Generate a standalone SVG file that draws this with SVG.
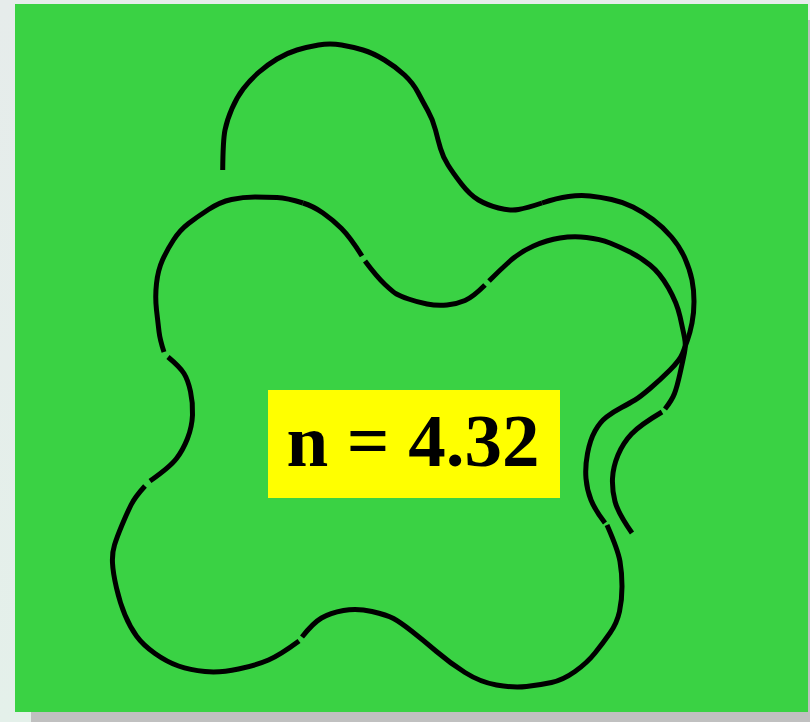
<svg xmlns="http://www.w3.org/2000/svg" width="810" height="722" viewBox="0 0 810 722">
<defs>
<linearGradient id="bg" x1="0" y1="0" x2="0" y2="1">
<stop offset="0" stop-color="#e6eceb"/>
<stop offset="1" stop-color="#e4f0ea"/>
</linearGradient>
<style>
.c{fill:none;stroke:#000;stroke-width:5;stroke-linecap:butt;stroke-linejoin:round}
.lbl{font-family:"Liberation Serif","Times New Roman",serif;font-weight:bold;font-size:75px;fill:#000}
</style>
</defs>
<rect x="0" y="0" width="810" height="722" fill="url(#bg)"/>
<rect x="31" y="20" width="779" height="702" fill="#c0c0c0"/>
<rect x="15" y="4" width="793" height="708" fill="#3ad244"/>
<g id="curve">
<path class="c" d="M222.7,170 Q223,140 225,130 Q227,120 232,108.5 Q237,97 243.5,88.5 Q250,80 258.5,72.5 Q267,65 277,59 Q287,53 297,50 Q307,47 318.5,45 Q330,43 341.5,45 Q353,47 363,50 Q373,53 384.5,60 Q396,67 404.5,75 Q413,83 418,92.5 Q423,102 428,111 Q433,120 435.5,130 Q438,140 440.5,148.5 Q443,157 448,165 Q453,173 461.5,184 Q470,195 478.5,200 Q487,205 498.5,208 Q510,211 518.5,209.5 Q527,208 542,203"/>
<path class="c" d="M542,203 Q557,198 568.5,196.5 Q580,195 590,196 Q600,197 611.5,199.5 Q623,202 633,207 Q643,212 653,219.5 Q663,227 671.5,237 Q680,247 685,258.5 Q690,270 692,280 Q694,290 694,301.5 Q694,313 692,323 Q690,333 687.5,340 Q685,347 682.5,353.5 Q680,360 670,370 Q660,380 650,388.5 Q640,397 635,400 Q630,403 621.5,407.5 Q613,412 606.5,417 Q600,422 595,431 Q590,440 587.5,453.5 Q585,467 586,478.5 Q587,490 591,500 Q595,510 605,523"/>
<path class="c" d="M607,525 Q618,550 620,561.5 Q622,573 622,586.5 Q622,600 619.5,611.5 Q617,623 610,633 Q603,643 595,653 Q587,663 575,671.5 Q563,680 551.5,682.5 Q540,685 526.5,686.5 Q513,688 496.5,685 Q480,682 465,672.5 Q450,663 436.5,651.5 Q423,640 411.5,631 Q400,622 393.5,618.5 Q387,615 372,611.5 Q357,608 343.5,610.5 Q330,613 321.5,618 Q313,623 302,637"/>
<path class="c" d="M299,641 Q280,655 268.5,660 Q257,665 238.5,669 Q220,673 205,671.5 Q190,670 178.5,666 Q167,662 155,653.5 Q143,645 136.5,636 Q130,627 125,615 Q120,603 116.5,588 Q113,573 112.5,563 Q112,553 114.5,545 Q117,537 122,525 Q127,513 131,505 Q135,497 145,486"/>
<path class="c" d="M150,481 Q170,467 176.5,458.5 Q183,450 187.5,438.5 Q192,427 192.5,415 Q193,403 190.5,391.5 Q188,380 184,373.5 Q180,367 168,357"/>
<path class="c" d="M164,352 Q160,340 159,331.5 Q158,323 156.5,310 Q155,297 156.5,283.5 Q158,270 162.5,260 Q167,250 173.5,240 Q180,230 188.5,223.5 Q197,217 208.5,209.5 Q220,202 231.5,199.5 Q243,197 255,197 Q267,197 277,197.5 Q287,198 303,203"/>
<path class="c" d="M303,203 Q313,206 323,213 Q333,220 341.5,228.5 Q350,237 362,256"/>
<path class="c" d="M365,261 Q377,277 385,284.5 Q393,292 396.5,294 Q400,296 408.5,299 Q417,302 427,304 Q437,306 447,305 Q457,304 465,300.5 Q473,297 485,285"/>
<path class="c" d="M489,281 Q500,270 510,261 Q520,252 533.5,246 Q547,240 560,238 Q573,236 586.5,237.5 Q600,239 610,243 Q620,247 630,252 Q640,257 650,265 Q660,273 668.5,288 Q677,303 680,316.5 Q683,330 684.5,337.5 Q686,345 684.5,352.5 Q683,360 680,373.5 Q677,387 674.5,393.5 Q672,400 665,409"/>
<path class="c" d="M662,412 Q640,425 631.5,434 Q623,443 618,455 Q613,467 612.5,478.5 Q612,490 615,501.5 Q618,513 632,533"/>
</g>
<g id="label">
<rect x="268" y="390" width="292" height="108" fill="#ffff00"/>
<text class="lbl" x="413" y="466" text-anchor="middle">n = 4.32</text>
</g>
</svg>
